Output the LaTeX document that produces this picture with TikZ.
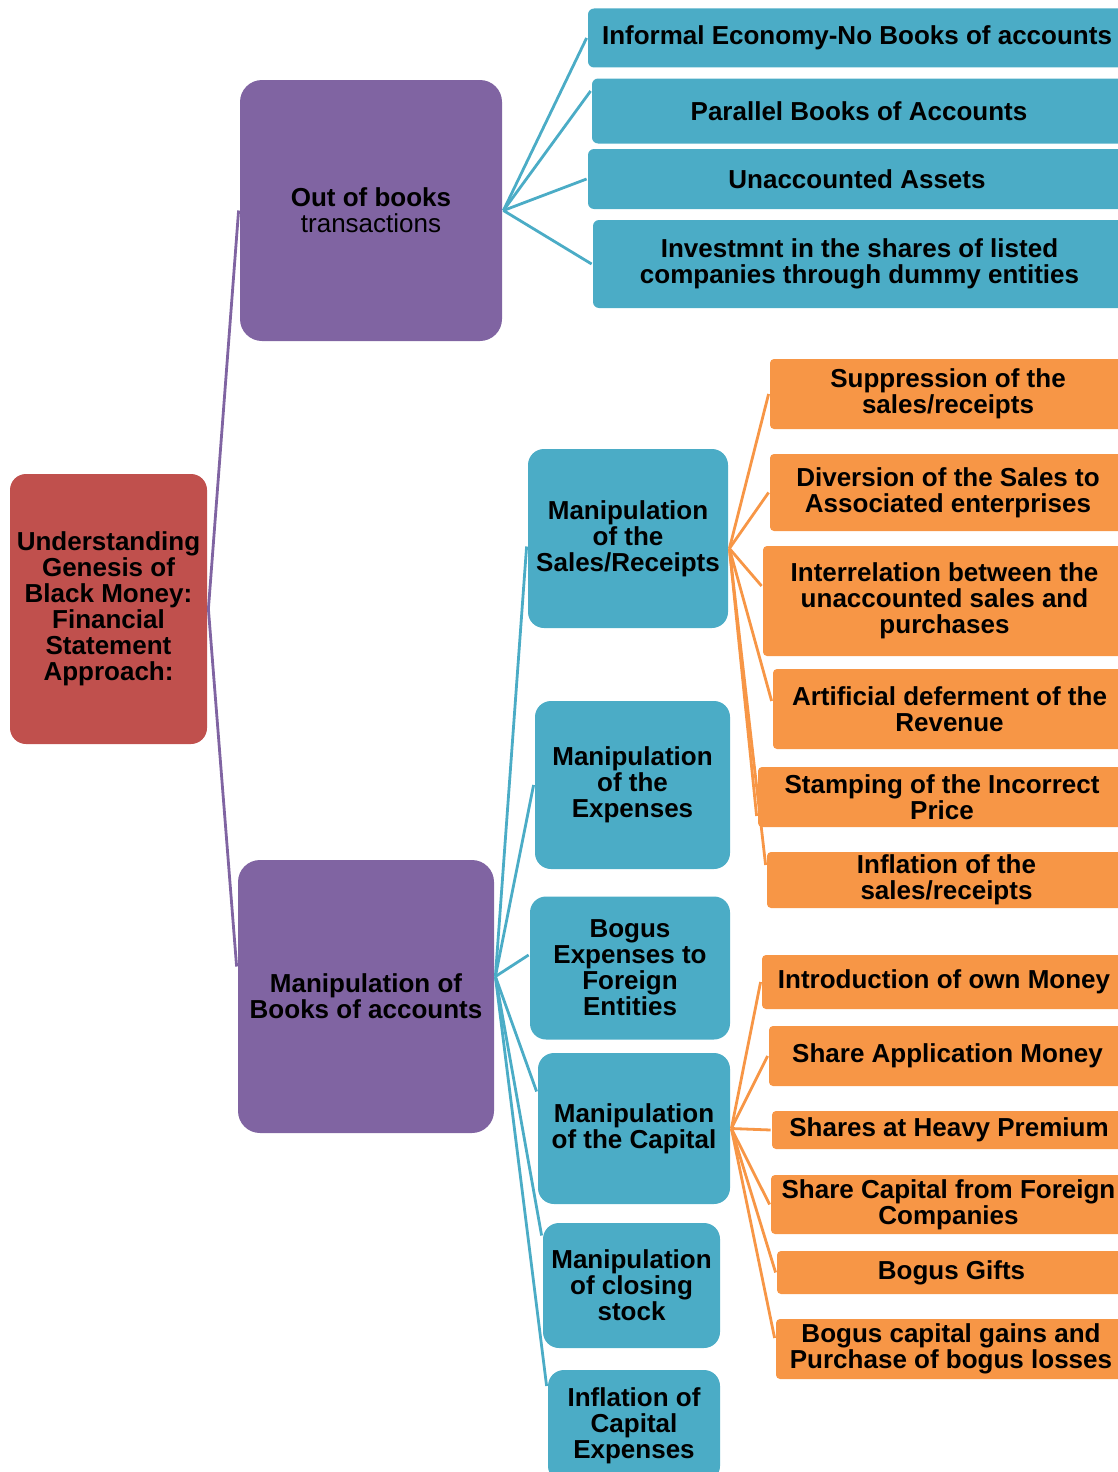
\documentclass[tikz,border=0pt]{standalone}
\usepackage{fontspec}
\setmainfont{Liberation Sans}
\usepackage{tikz}
\definecolor{redbox}{HTML}{C0504D}
\definecolor{purplebox}{HTML}{8064A2}
\definecolor{bluebox}{HTML}{4BACC6}
\definecolor{orangebox}{HTML}{F79646}

\begin{document}
\begin{tikzpicture}[x=1pt,y=-1pt,line width=2.8pt]
    \tikzstyle{box}=[inner sep=0pt,align=center,font=\bfseries\fontsize{26}{26}\selectfont]
    \tikzstyle{rootbox}=[box,fill=redbox,rounded corners=16pt]
    \tikzstyle{mainbox}=[box,fill=purplebox,rounded corners=22pt]
    \tikzstyle{subbox}=[box,fill=bluebox,rounded corners=16pt]
    \tikzstyle{topbox}=[box,fill=bluebox,rounded corners=6pt]
    \tikzstyle{twigbox}=[box,fill=orangebox,rounded corners=4pt]
    \useasboundingbox (0,0) rectangle (1118,1472);
    % root and the two main branches
    \node[rootbox,minimum width=197pt,minimum height=270pt] (R) at (108.5,609) {Understanding\\Genesis of\\Black Money:\\Financial\\Statement\\Approach:};
    \node[mainbox,minimum width=262pt,minimum height=261pt] (M_1) at (371,210.5) {Out of books\\\mdseries transactions};
    \node[mainbox,minimum width=256pt,minimum height=273pt] (M_2) at (366,996.5) {Manipulation of\\Books of accounts};
    % out of books
    \node[topbox,minimum width=538pt,minimum height=59pt] (T_1) at (857,38) {Informal Economy-No Books of accounts};
    \node[topbox,minimum width=534pt,minimum height=65pt] (T_2) at (859,111) {Parallel Books of Accounts};
    \node[topbox,minimum width=538pt,minimum height=60pt] (T_3) at (857,179) {Unaccounted Assets};
    \node[topbox,minimum width=533pt,minimum height=88pt] (T_4) at (859.5,264) {Investmnt in the shares of listed\\companies through dummy entities};
    % manipulation of books
    \node[subbox,minimum width=200pt,minimum height=179pt] (S_1) at (628,538.5) {Manipulation\\of the\\Sales/Receipts};
    \node[subbox,minimum width=195pt,minimum height=168pt] (S_2) at (632.5,785) {Manipulation\\of the\\Expenses};
    \node[subbox,minimum width=200pt,minimum height=143pt] (S_3) at (630,968) {Bogus\\Expenses to\\Foreign\\Entities};
    \node[subbox,minimum width=192pt,minimum height=151pt] (S_4) at (634,1128.5) {Manipulation\\of the Capital};
    \node[subbox,minimum width=177pt,minimum height=125pt] (S_5) at (631.5,1285.5) {Manipulation\\of closing\\stock};
    \node[subbox,minimum width=172pt,minimum height=112pt] (S_6) at (634,1426) {Inflation of\\Capital\\Expenses};
    % sales/receipts
    \node[twigbox,minimum width=356pt,minimum height=70pt] (L_1) at (948,394) {Suppression of the\\sales/receipts};
    \node[twigbox,minimum width=356pt,minimum height=77pt] (L_2) at (948,492.5) {Diversion of the Sales to\\Associated enterprises};
    \node[twigbox,minimum width=363pt,minimum height=110pt] (L_3) at (944.5,601) {Interrelation between the\\unaccounted sales and\\purchases};
    \node[twigbox,minimum width=353pt,minimum height=80pt] (L_4) at (949.5,709) {Artificial deferment of the\\Revenue};
    \node[twigbox,minimum width=368pt,minimum height=60pt] (L_5) at (942,797) {Stamping of the Incorrect\\Price};
    \node[twigbox,minimum width=359pt,minimum height=56pt] (L_6) at (946.5,880) {Inflation of the\\sales/receipts};
    % capital
    \node[twigbox,minimum width=364pt,minimum height=54pt] (L_7) at (944,982) {Introduction of own Money};
    \node[twigbox,minimum width=357pt,minimum height=60pt] (L_8) at (947.5,1056) {Share Application Money};
    \node[twigbox,minimum width=354pt,minimum height=38pt] (L_9) at (949,1130) {Shares at Heavy Premium};
    \node[twigbox,minimum width=355pt,minimum height=59pt] (L_10) at (948.5,1204.5) {Share Capital from Foreign\\Companies};
    \node[twigbox,minimum width=349pt,minimum height=43pt] (L_11) at (951.5,1272.5) {Bogus Gifts};
    \node[twigbox,minimum width=350pt,minimum height=60pt] (L_12) at (951,1349) {Bogus capital gains and\\Purchase of bogus losses};
    % connectors
    \draw[purplebox] (R.east) -- (M_1.west);
    \draw[purplebox] (R.east) -- ([yshift=30pt]M_2.west);
    \draw[bluebox] (M_1.east) -- (T_1.west);
    \draw[bluebox] (M_1.east) -- ([yshift=20pt]T_2.west);
    \draw[bluebox] (M_1.east) -- (T_3.west);
    \draw[bluebox] (M_1.east) -- (T_4.west);
    \draw[bluebox] ([yshift=20pt]M_2.east) -- ([yshift=-8pt]S_1.west);
    \draw[bluebox] ([yshift=20pt]M_2.east) -- (S_2.west);
    \draw[bluebox] ([yshift=20pt]M_2.east) -- ([yshift=13pt]S_3.west);
    \draw[bluebox] ([yshift=20pt]M_2.east) -- ([yshift=37pt]S_4.west);
    \draw[bluebox] ([yshift=20pt]M_2.east) -- ([yshift=50pt]S_5.west);
    \draw[bluebox] ([yshift=20pt]M_2.east) -- ([yshift=40pt]S_6.west);
    \draw[orangebox] ([yshift=-10pt]S_1.east) -- (L_1.west);
    \draw[orangebox] ([yshift=-10pt]S_1.east) -- (L_2.west);
    \draw[orangebox] ([yshift=-10pt]S_1.east) -- ([yshift=15pt]L_3.west);
    \draw[orangebox] ([yshift=-10pt]S_1.east) -- ([yshift=8pt]L_4.west);
    \draw[orangebox] ([yshift=-10pt]S_1.east) -- ([yshift=-19pt]L_5.west);
    \draw[orangebox] ([yshift=-10pt]S_1.east) -- ([yshift=15pt]L_6.west);
    \draw[orangebox] (S_4.east) -- (L_7.west);
    \draw[orangebox] (S_4.east) -- (L_8.west);
    \draw[orangebox] (S_4.east) -- (L_9.west);
    \draw[orangebox] (S_4.east) -- (L_10.west);
    \draw[orangebox] (S_4.east) -- (L_11.west);
    \draw[orangebox] (S_4.east) -- ([yshift=11pt]L_12.west);
\end{tikzpicture}
\end{document}
